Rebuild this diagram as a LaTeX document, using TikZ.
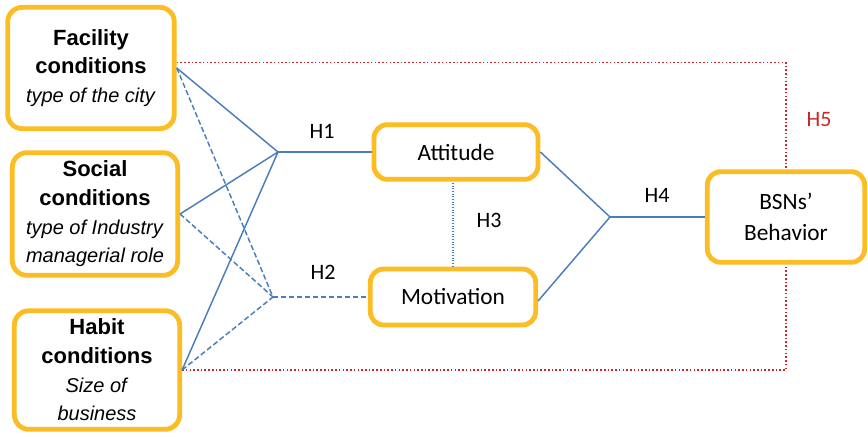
\documentclass[tikz,border=0pt]{standalone}
\usepackage{fontspec}
\setmainfont{Carlito}
\newfontfamily\arialfont{Liberation Sans}
\usetikzlibrary{positioning}
\definecolor{boxgold}{HTML}{FBBC24}
\definecolor{linkblue}{HTML}{4A7EBB}
\definecolor{hred}{HTML}{C82828}
\tikzset{
  factor/.style={rectangle, draw=boxgold, line width=3.6pt, rounded corners=11pt, align=center, fill=white, font=\arialfont\fontsize{16.5}{21.5}\selectfont},
  construct/.style={rectangle, draw=boxgold, line width=3.6pt, rounded corners=10pt, align=center, fill=white, font=\fontsize{17.5}{23}\selectfont},
  link/.style={draw=linkblue, line width=1.1pt},
  dashlink/.style={link, dash pattern=on 4pt off 2pt},
  dotlink/.style={draw=linkblue, line width=1pt, dash pattern=on 0.8pt off 1.2pt},
  h5line/.style={draw=hred, line width=1.1pt, dash pattern=on 1.2pt off 1.6pt},
  hlabel/.style={font=\fontsize{16.5}{20}\selectfont},
}
\begin{document}
\begin{tikzpicture}[x=0.75pt, y=-0.75pt]
  \useasboundingbox (0,0) rectangle (868,436);

  % red dotted frame (drawn first, boxes sit on top)
  \node[factor, minimum width=125pt, minimum height=91pt] (fac) at (91,68) {\textbf{Facility}\\\textbf{conditions}\\\fontsize{15}{21.5}\selectfont\textit{type of the city}};
  \node[factor, minimum width=124pt, minimum height=92pt] (soc) at (95,214) {\textbf{Social}\\\textbf{conditions}\\\fontsize{15}{21.5}\selectfont\textit{type of Industry}\\\fontsize{15}{21.5}\selectfont\textit{managerial role}};
  \node[factor, minimum width=124pt, minimum height=89pt] (hab) at (97,370) {\textbf{Habit}\\\textbf{conditions}\\\fontsize{15}{21.5}\selectfont\textit{Size of}\\\fontsize{15}{21.5}\selectfont\textit{business}};

  \node[construct, minimum width=123pt, minimum height=41pt] (att) at (456,152) {Attitude};
  \node[construct, minimum width=124pt, minimum height=42pt] (mot) at (453,297) {Motivation};
  \node[construct, minimum width=118pt, minimum height=68pt] (bsn) at (786,217) {BSNs'\\Behavior};

  \coordinate (h1) at (278,152);
  \coordinate (h2) at (273,297);
  \coordinate (h4) at (610,217);

  % H5 direct paths
  \draw[h5line] ([yshift=4pt]fac.east) -| (bsn.north);
  \draw[h5line] (hab.east) -| (bsn.south);

  % H1
  \draw[link] (fac.east) -- (h1);
  \draw[link] (soc.east) -- (h1);
  \draw[link] (hab.east) -- (h1);
  \draw[link] (h1) -- (att.west);

  % H2
  \draw[dashlink] (fac.east) -- (h2);
  \draw[dashlink] (soc.east) -- (h2);
  \draw[dashlink] (hab.east) -- (h2);
  \draw[dashlink] (h2) -- (mot.west);

  % H3
  \draw[dotlink] (mot.north) -- (mot.north |- att.south);

  % H4
  \draw[link] (att.east) -- (h4);
  \draw[link] ([yshift=-3pt]mot.east) -- (h4);
  \draw[link] (h4) -- (bsn.west);

  \node[hlabel] (lab1) at (322,131) {H1};
  \node[hlabel] (lab2) at (323,272) {H2};
  \node[hlabel] (lab3) at (489,220) {H3};
  \node[hlabel] (lab4) at (657,195) {H4};
  \node[hlabel, text=hred] (lab5) at (819,120) {H5};
\end{tikzpicture}
\end{document}
